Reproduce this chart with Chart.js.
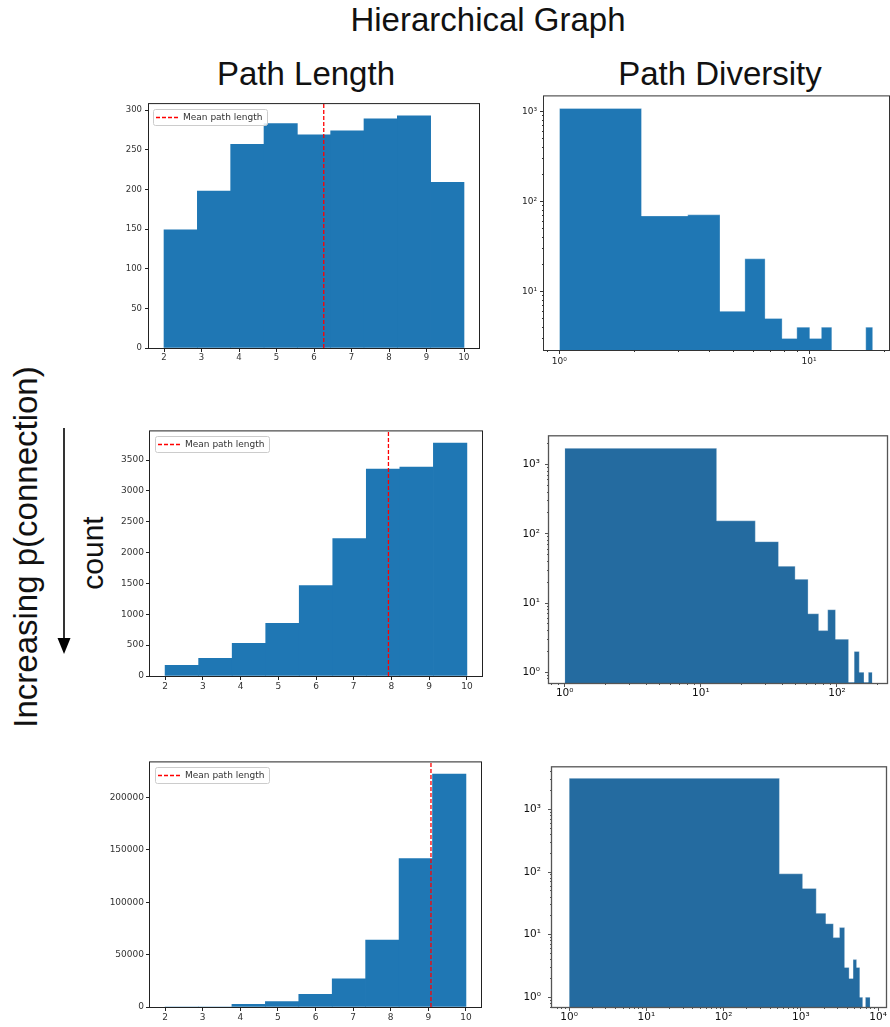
<!DOCTYPE html>
<html>
<head>
<meta charset="utf-8">
<title>Hierarchical Graph</title>
<script src="https://cdn.jsdelivr.net/npm/chart.js@4.4.1/dist/chart.umd.min.js"></script>
<style>
  html, body { margin: 0; padding: 0; background: #fff; overflow: hidden; }
  body { width: 890px; height: 1027px; position: relative; font-family: "Liberation Sans", Arial, sans-serif; color: #111; }
  .t { position: absolute; white-space: nowrap; font-size: 33px; line-height: 33px; }
  .c { transform: translateX(-50%); }
  .r { transform: translate(-50%, -50%) rotate(-90deg); }
  canvas { position: absolute; }
  svg { position: absolute; left: 0; top: 0; }
</style>
</head>
<body>
<div class="t c" style="left:488px; top:3px;">Hierarchical Graph</div>
<div class="t c" style="left:306px; top:57px;">Path Length</div>
<div class="t c" style="left:720px; top:57px;">Path Diversity</div>
<div class="t r" style="left:24.5px; top:547px;">Increasing p(connection)</div>
<div class="t r" style="left:92.6px; top:552.5px; font-size:30px; line-height:30px;">count</div>
<svg width="120" height="700">
  <line x1="64" y1="428" x2="64" y2="642" stroke="#000" stroke-width="1.6"/>
  <polygon points="57.5,638 70.5,638 64,654" fill="#000"/>
</svg>

<script>
// ---- Path length: 9 equal-width bins from 2 to 10 ----
const lengthEdges = [2, 2.889, 3.778, 4.667, 5.556, 6.444, 7.333, 8.222, 9.111, 10];
const lengthTicks = [2, 3, 4, 5, 6, 7, 8, 9, 10];
const lengthCountsLow  = [149, 198, 257, 283, 269, 274, 289, 293, 209];
const lengthCountsMid  = [173, 286, 529, 852, 1467, 2227, 3355, 3385, 3776];
const lengthCountsHigh = [0, 0, 2530, 5060, 12000, 26900, 63900, 141500, 222200];
const meanLengthLow = 6.26;
const meanLengthMid = 7.92;
const meanLengthHigh = 9.07;
const countTicksLow  = [0, 50, 100, 150, 200, 250, 300];
const countTicksMid  = [0, 500, 1000, 1500, 2000, 2500, 3000, 3500];
const countTicksHigh = [0, 50000, 100000, 150000, 200000];
const meanLabel = 'Mean path length';

// ---- Path diversity: 15 equal-width bins, drawn on log-log axes ----
const diversityEdgesLow  = [1, 2.133, 3.267, 4.4, 5.533, 6.667, 7.8, 8.933, 10.067, 11.2, 12.333, 13.467, 14.6, 15.733, 16.867, 18];
const diversityCountsLow = [1080, 69, 71, 6, 23, 5, 3, 4, 3, 4, 0, 0, 0, 0, 4];
const diversityEdgesMid  = [1, 13.07, 25.13, 37.2, 49.27, 61.33, 73.4, 85.47, 97.53, 109.6, 121.67, 133.73, 145.8, 157.87, 169.93, 182];
const diversityCountsMid = [1715, 154, 77, 34, 22, 7, 4, 8, 3, 3, 0, 2, 1, 0, 1];
const diversityEdgesHigh  = [1, 528, 1054, 1581, 2107, 2634, 3161, 3687, 4214, 4740, 5267, 5794, 6320, 6847, 7373, 7900];
const diversityCountsHigh = [3150, 94, 55, 22, 15, 9, 13, 3, 2, 4, 3, 1, 0, 1, 1];
const decadesLowX  = [1, 10];
const decadesLowY  = [10, 100, 1000];
const decadesMidX  = [1, 10, 100];
const decadesMidY  = [1, 10, 100, 1000];
const decadesHighX = [1, 10, 100, 1000, 10000];
const decadesHighY = [1, 10, 100, 1000];

const SUP = { '0': '\u2070', '1': '\u00b9', '2': '\u00b2', '3': '\u00b3', '4': '\u2074' };
const powLabel = v => '10' + SUP[String(Math.round(Math.log10(v)))];
const isDecade = v => Math.abs(Math.log10(v) - Math.round(Math.log10(v))) < 1e-9;

Chart.defaults.font.family = '"DejaVu Sans"';

// Full rectangular frame around the plotting area
const framePlugin = {
  id: 'frame',
  afterDatasetsDraw(chart, args, opts) {
    const { ctx, chartArea: a } = chart;
    ctx.save();
    ctx.strokeStyle = opts.color;
    ctx.lineWidth = opts.width;
    ctx.strokeRect(a.left - 0.5, a.top - 0.5, a.right - a.left + 1, a.bottom - a.top + 1);
    ctx.restore();
  }
};

// Boxed legend in the upper-left corner of the plotting area
const boxedLegendPlugin = {
  id: 'boxedLegend',
  afterDraw(chart, args, opts) {
    const ds = chart.data.datasets.find(d => d.type === 'line');
    if (!ds) return;
    const { ctx, chartArea: a } = chart;
    ctx.save();
    ctx.font = opts.size + 'px "DejaVu Sans"';
    const tw = ctx.measureText(ds.label).width;
    const x = Math.round(a.left + opts.dx), y = Math.round(a.top + opts.dy);
    const h = 16, w = Math.round(30 + tw + 5);
    ctx.fillStyle = 'rgba(255,255,255,0.85)';
    ctx.strokeStyle = '#cccccc';
    ctx.lineWidth = 1;
    ctx.beginPath();
    if (ctx.roundRect) ctx.roundRect(x + 0.5, y + 0.5, w, h, 2); else ctx.rect(x + 0.5, y + 0.5, w, h);
    ctx.fill();
    ctx.stroke();
    ctx.strokeStyle = ds.borderColor;
    ctx.lineWidth = ds.borderWidth;
    ctx.setLineDash(ds.borderDash);
    ctx.beginPath();
    ctx.moveTo(x + 3, y + h / 2 + 0.5);
    ctx.lineTo(x + 26, y + h / 2 + 0.5);
    ctx.stroke();
    ctx.setLineDash([]);
    ctx.fillStyle = '#333';
    ctx.textBaseline = 'middle';
    ctx.fillText(ds.label, x + 30, y + h / 2 + 1);
    ctx.restore();
  }
};

function makeCanvas(box, pad) {
  const c = document.createElement('canvas');
  const w = box.r - box.l + pad.l + pad.r;
  const h = box.b - box.t + pad.t + pad.b;
  c.width = w; c.height = h;
  c.style.width = w + 'px'; c.style.height = h + 'px';
  c.style.left = (box.l - pad.l) + 'px';
  c.style.top = (box.t - pad.t) + 'px';
  document.body.appendChild(c);
  return c;
}

function gridOpts(color, minorDash) {
  return {
    display: true, drawOnChartArea: false, drawTicks: true, tickLength: 4, offset: false,
    tickColor: color, tickWidth: 1, lineWidth: 1,
    tickBorderDash: ctx => (ctx.tick && !isDecade(ctx.tick.value) && minorDash) ? minorDash : []
  };
}

function lengthPanel(p) {
  const pad = { l: 48, t: 6, r: 6, b: 22 };
  const canvas = makeCanvas(p.box, pad);
  const centers = p.counts.map((_, i) => (lengthEdges[i] + lengthEdges[i + 1]) / 2);
  const font = { family: '"DejaVu Sans"', size: p.fontSize };
  new Chart(canvas, {
    type: 'bar',
    data: {
      datasets: [
        {
          type: 'line', label: meanLabel,
          data: [{ x: p.mean, y: 0 }, { x: p.mean, y: p.yMax }],
          borderColor: '#ff0000', borderWidth: 1.3, borderDash: [4, 2],
          pointRadius: 0, fill: false, order: 0
        },
        {
          type: 'bar', label: 'count',
          data: centers.map((x, i) => ({ x, y: p.counts[i] })),
          backgroundColor: '#1f77b4', borderWidth: 0,
          barPercentage: 1, categoryPercentage: 1, order: 1
        }
      ]
    },
    options: {
      responsive: false, animation: false, devicePixelRatio: 1,
      layout: { padding: { left: 0, top: pad.t, right: pad.r, bottom: 0 }, autoPadding: false },
      plugins: {
        legend: { display: false }, tooltip: { enabled: false },
        frame: { color: '#222', width: 1 },
        boxedLegend: { size: 9, dx: p.legendDx, dy: 5 }
      },
      scales: {
        x: {
          type: 'linear', min: 1.6, max: 10.4, offset: false,
          afterBuildTicks: s => { s.ticks = lengthTicks.map(v => ({ value: v })); },
          afterFit: s => { s.height = pad.b; },
          grid: gridOpts('#222', null), border: { display: false },
          ticks: { font, color: '#333', padding: 1, maxRotation: 0, minRotation: 0, autoSkip: false, callback: v => String(v) }
        },
        y: {
          type: 'linear', min: 0, max: p.yMax,
          afterBuildTicks: s => { s.ticks = p.yTicks.map(v => ({ value: v })); },
          afterFit: s => { s.width = pad.l; },
          grid: gridOpts('#222', null), border: { display: false },
          ticks: { font, color: '#333', padding: p.yPad, autoSkip: false, callback: v => String(v) }
        }
      }
    },
    plugins: [framePlugin, boxedLegendPlugin]
  });
}

function logTicks(min, max) {
  const out = [];
  for (let k = Math.floor(Math.log10(min)); k <= Math.ceil(Math.log10(max)); k++) {
    for (let m = 1; m <= 9; m++) {
      const v = m * Math.pow(10, k);
      if (v >= min && v <= max) out.push({ value: v });
    }
  }
  return out;
}

function diversityPanel(p) {
  const pad = { l: 44, t: 6, r: Math.min(6, 890 - p.box.r), b: 22 };
  const canvas = makeCanvas(p.box, pad);
  // empty bins sit on the floor of the log axis (a log scale cannot hold 0)
  const floor = c => (c > 0 ? c : p.yMin);
  const pts = [{ x: p.edges[0], y: p.yMin }].concat(
    p.edges.map((e, i) => ({ x: e, y: i < p.counts.length ? floor(p.counts[i]) : p.yMin })));
  const font = { family: '"DejaVu Sans"', size: p.fontSize };
  new Chart(canvas, {
    type: 'line',
    data: {
      datasets: [{
        label: 'count', data: pts, stepped: true, fill: 'start',
        backgroundColor: p.color, borderColor: 'rgba(255,255,255,0.3)', borderWidth: 1,
        pointRadius: 0
      }]
    },
    options: {
      responsive: false, animation: false, devicePixelRatio: 1,
      layout: { padding: { left: 0, top: pad.t, right: pad.r, bottom: 0 }, autoPadding: false },
      plugins: {
        legend: { display: false }, tooltip: { enabled: false },
        frame: { color: p.frameColor, width: p.frameWidth }
      },
      scales: {
        x: {
          type: 'logarithmic', min: p.xMin, max: p.xMax,
          afterBuildTicks: s => { s.ticks = logTicks(p.xMin, p.xMax); },
          afterFit: s => { s.height = pad.b; },
          grid: gridOpts(p.frameColor, [2, 20]), border: { display: false },
          ticks: { font, color: p.labelColor, padding: p.xPad, maxRotation: 0, minRotation: 0, autoSkip: false,
                   callback: v => p.xMajors.includes(v) ? powLabel(v) : '' }
        },
        y: {
          type: 'logarithmic', min: p.yMin, max: p.yMax,
          afterBuildTicks: s => { s.ticks = logTicks(p.yMin, p.yMax); },
          afterFit: s => { s.width = pad.l; },
          grid: gridOpts(p.frameColor, [0, 2, 2, 20]), border: { display: false },
          ticks: { font, color: p.labelColor, padding: p.yPad, autoSkip: false,
                   callback: v => p.yMajors.includes(v) ? powLabel(v) : '' }
        }
      }
    },
    plugins: [framePlugin]
  });
}

lengthPanel({ box: { l: 149, t: 102, r: 479, b: 348 }, counts: lengthCountsLow, mean: meanLengthLow,
              yMax: 307.7, yTicks: countTicksLow, fontSize: 8.5, yPad: 3, legendDx: 4 });
lengthPanel({ box: { l: 150, t: 430, r: 482, b: 676 }, counts: lengthCountsMid, mean: meanLengthMid,
              yMax: 3965, yTicks: countTicksMid, fontSize: 9, yPad: 2, legendDx: 5 });
lengthPanel({ box: { l: 150, t: 761, r: 481, b: 1007 }, counts: lengthCountsHigh, mean: meanLengthHigh,
              yMax: 233300, yTicks: countTicksHigh, fontSize: 9, yPad: 2, legendDx: 5 });

diversityPanel({ box: { l: 544, t: 94, r: 889, b: 350 }, edges: diversityEdgesLow, counts: diversityCountsLow,
                 xMin: 0.868, xMax: 20.9, yMin: 2.23, yMax: 1472, xMajors: decadesLowX, yMajors: decadesLowY,
                 color: '#1f77b4', frameColor: '#333', frameWidth: 1, labelColor: '#222', fontSize: 9, xPad: 2, yPad: 3 });
diversityPanel({ box: { l: 549, t: 431, r: 887, b: 683 }, edges: diversityEdgesMid, counts: diversityCountsMid,
                 xMin: 0.767, xMax: 233, yMin: 0.72, yMax: 2560, xMajors: decadesMidX, yMajors: decadesMidY,
                 color: '#246ba0', frameColor: '#555', frameWidth: 1.3, labelColor: '#111', fontSize: 10.5, xPad: 0, yPad: 5 });
diversityPanel({ box: { l: 552, t: 760, r: 886, b: 1007 }, edges: diversityEdgesHigh, counts: diversityCountsHigh,
                 xMin: 0.641, xMax: 12650, yMin: 0.70, yMax: 4732, xMajors: decadesHighX, yMajors: decadesHighY,
                 color: '#246ba0', frameColor: '#555', frameWidth: 1.3, labelColor: '#111', fontSize: 10.5, xPad: 0, yPad: 7 });
</script>
</body>
</html>
